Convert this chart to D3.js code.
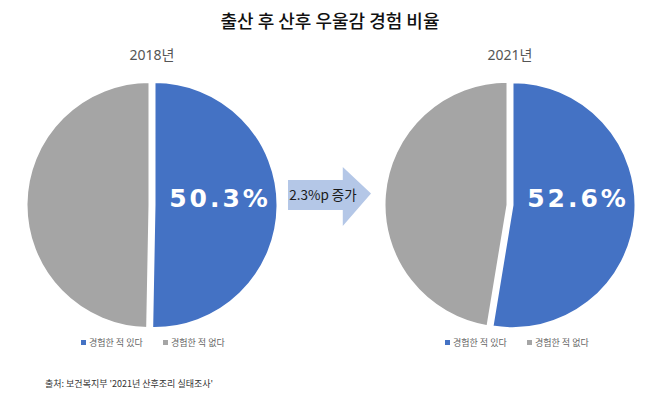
<!DOCTYPE html>
<html><head><meta charset="utf-8">
<script src="https://cdn.jsdelivr.net/npm/d3@7"></script>
<style>body{margin:0;background:#fff}svg{display:block}</style>
</head><body>
<svg id="c" width="658" height="406"></svg>
<script>
const title = "출산 후 산후 우울감 경험 비율";
const years = ["2018년", "2021년"];
const categories = ["경험한 적 있다", "경험한 적 없다"];
const experienced = [50.3, 52.6];
const notExperienced = [49.7, 47.4];
const labels = ["50.3%", "52.6%"];
const arrowText = "2.3%p 증가";
const source = "출처: 보건복지부 '2021년 산후조리 실태조사'";
const colors = ["#4472c4", "#a5a5a5"];

const svg = d3.select("#c");
const font = "'Noto Sans CJK KR','Noto Sans',sans-serif";

svg.append("text").attr("x", 330).attr("y", 28).attr("text-anchor", "middle")
  .attr("font-family", font).attr("font-size", 18).attr("font-weight", 500)
  .attr("fill", "#111").text(title);

const centers = [152, 510];
const cy = 205, r = 123;
const pie = d3.pie().sort(null).value(d => d);
const arc = d3.arc().innerRadius(0).outerRadius(r);

years.forEach((y, i) => {
  const g = svg.append("g").attr("transform", `translate(${centers[i]},${cy})`);
  const data = pie([experienced[i], notExperienced[i]]);
  g.selectAll("path").data(data).join("path")
    .attr("d", arc)
    .attr("fill", (d, j) => colors[j])
    .attr("stroke", "#fff").attr("stroke-width", 2)
    .attr("transform", d => {
      const a = (d.startAngle + d.endAngle) / 2;
      return `translate(${Math.sin(a) * 2.5},${-Math.cos(a) * 2.5})`;
    });
  svg.append("text").attr("x", centers[i]).attr("y", 60).attr("text-anchor", "middle")
    .attr("font-family", "'Noto Sans','Noto Sans CJK KR',sans-serif").attr("font-size", 14).attr("font-weight", 400)
    .attr("fill", "#555").text(y);
  svg.append("text").attr("x", centers[i] + 68).attr("y", 207).attr("text-anchor", "middle")
    .attr("font-family", "'DejaVu Sans',sans-serif").attr("font-size", 25).attr("font-weight", "bold")
    .attr("letter-spacing", 3)
    .attr("fill", "#fff").text(labels[i]);
  // legend
  const lx = [81, 445][i];
  const lg = svg.append("g").attr("transform", `translate(${lx},345)`);
  categories.forEach((c, j) => {
    const ox = j * 82;
    lg.append("rect").attr("x", ox).attr("y", -5).attr("width", 5).attr("height", 5).attr("fill", colors[j]);
    lg.append("text").attr("x", ox + 8).attr("y", 1).attr("font-family", font)
      .attr("font-size", 9).attr("fill", "#666").text(c);
  });
});

// arrow
const ax = d3.scaleLinear().domain([0, 1]).range([288, 371]);
const ay = d3.scaleLinear().domain([0, 1]).range([167, 226]);
const pts = [[0, 0.22], [0.66, 0.22], [0.66, 0], [1, 0.45], [0.66, 1], [0.66, 0.73], [0, 0.73]];
svg.append("path").attr("d", d3.line().x(p => ax(p[0])).y(p => ay(p[1]))(pts) + "Z")
  .attr("fill", "#b4c7e7");
svg.append("text").attr("x", 323).attr("y", 200).attr("text-anchor", "middle")
  .attr("font-family", font).attr("font-size", 13.5).attr("fill", "#1a1a1a").text(arrowText);

svg.append("text").attr("x", 45).attr("y", 387).attr("font-family", font)
  .attr("font-size", 9).attr("fill", "#333").text(source);
</script>
</body></html>
